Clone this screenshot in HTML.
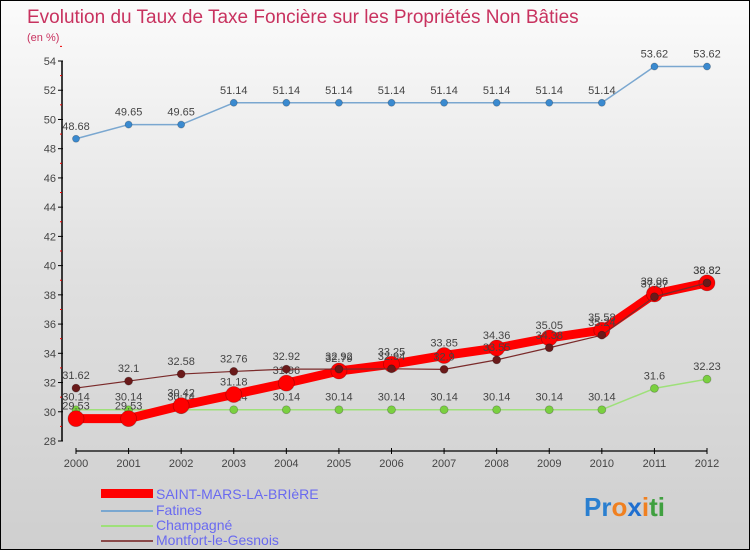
<!DOCTYPE html>
<html><head><meta charset="utf-8"><style>
body{margin:0;}
#c{width:750px;height:550px;position:relative;overflow:hidden;border:1px solid #000;box-sizing:border-box;background:linear-gradient(#fbfbfb,#e0e0e0 50%,#cfcfcf);font-family:"Liberation Sans",sans-serif;}
svg text{font-family:"Liberation Sans",sans-serif;}
</style></head><body>
<div id="c">
<svg id="s" width="750" height="550">
<text x="26" y="22" font-size="19" fill="#c8325f">Evolution du Taux de Taxe Foncière sur les Propriétés Non Bâties</text>
<text x="26" y="40" font-size="11" fill="#c8325f">(en %)</text>
<g id="g"></g>
<g>
<rect x="100" y="488" width="52" height="9" fill="#f00"/>
<text x="155" y="498" font-size="14" fill="#6a6af0">SAINT-MARS-LA-BRIèRE</text>
<line x1="100" y1="510" x2="152" y2="510" stroke="#7aa7d0" stroke-width="2"/>
<text x="155" y="514" font-size="14" fill="#6a6af0">Fatines</text>
<line x1="100" y1="525" x2="152" y2="525" stroke="#9ee07a" stroke-width="2"/>
<text x="155" y="529" font-size="14" fill="#6a6af0">Champagné</text>
<line x1="100" y1="540" x2="152" y2="540" stroke="#8a4a4a" stroke-width="2"/>
<text x="155" y="544" font-size="14" fill="#6a6af0">Montfort-le-Gesnois</text>
</g>
<text x="583" y="515" font-size="26" font-weight="bold"><tspan fill="#2a7fd0">Pr</tspan><tspan fill="#f08020">o</tspan><tspan fill="#1f6fd0">x</tspan><tspan fill="#f08020">i</tspan><tspan fill="#40a040">ti</tspan></text>
</svg>
</div>
<script>
const years=[2000,2001,2002,2003,2004,2005,2006,2007,2008,2009,2010,2011,2012];
const yTicks=[28,30,32,34,36,38,40,42,44,46,48,50,52,54];
const saintMars=[29.53,29.53,30.42,31.18,31.96,32.79,33.25,33.85,34.36,35.05,35.58,38.06,38.82];
const fatines=[48.68,49.65,49.65,51.14,51.14,51.14,51.14,51.14,51.14,51.14,51.14,53.62,53.62];
const champagne=[30.14,30.14,30.14,30.14,30.14,30.14,30.14,30.14,30.14,30.14,30.14,31.6,32.23];
const montfort=[31.62,32.1,32.58,32.76,32.92,32.92,32.94,32.9,33.55,34.38,35.24,37.87,38.82];
const NS='http://www.w3.org/2000/svg';
const g=document.getElementById('g');
const X=i=>75+i*(706-75)/(years.length-1);
const Y=v=>440-(v-28)*(380/26);
function mk(t,a,p){const e=document.createElementNS(NS,t);for(const k in a)e.setAttribute(k,a[k]);(p||g).appendChild(e);return e;}
// axes
let ya=mk('line',{x1:61,y1:Y(54),x2:61,y2:Y(28),stroke:'#000','stroke-width':1.5});


yTicks.forEach(v=>{
 mk('line',{x1:57,y1:Y(v),x2:62,y2:Y(v),stroke:'#000'});
 mk('line',{x1:59,y1:Y(v+1),x2:61,y2:Y(v+1),stroke:'#e00'});
 let t=mk('text',{x:55,y:Y(v)+4,'font-size':11,fill:'#444','text-anchor':'end'});t.textContent=v;
 
 
});
let xa=mk('line',{x1:75,y1:450,x2:706,y2:450,stroke:'#000','stroke-width':1.2});


years.forEach((y,i)=>{
 mk('line',{x1:X(i),y1:447,x2:X(i),y2:453,stroke:'#000'});
 let t=mk('text',{x:X(i),y:466,'font-size':11,fill:'#444','text-anchor':'middle'});t.textContent=y;
 
 
});
function series(d,name,col,w,r,ptcol){
 const pts=d.map((v,i)=>X(i)+','+Y(v)).join(' ');
 let l=mk('polyline',{points:pts,fill:'none',stroke:col,'stroke-width':w,'stroke-linejoin':'round'});
 
 
 d.forEach((v,i)=>{
  let c=mk('circle',{cx:X(i),cy:Y(v),r:r,fill:ptcol,stroke:'rgba(0,0,0,0.25)','stroke-width':0.8});
  
  
  let t=mk('text',{x:X(i),y:Y(v)-9,'font-size':11,fill:'#444','text-anchor':'middle'});t.textContent=v;
  
  
 });
}
series(champagne,'champagne','#9ee07a',1.5,4,'#7ad040');
series(fatines,'fatines','#7aa7d0',1.5,3.5,'#3a8ad0');
series(saintMars,'saint-mars','#f00',9,8,'#f00');
series(montfort,'montfort','#7a2a2a',1.2,4,'#6a1a1a');
</script>
</body></html>
